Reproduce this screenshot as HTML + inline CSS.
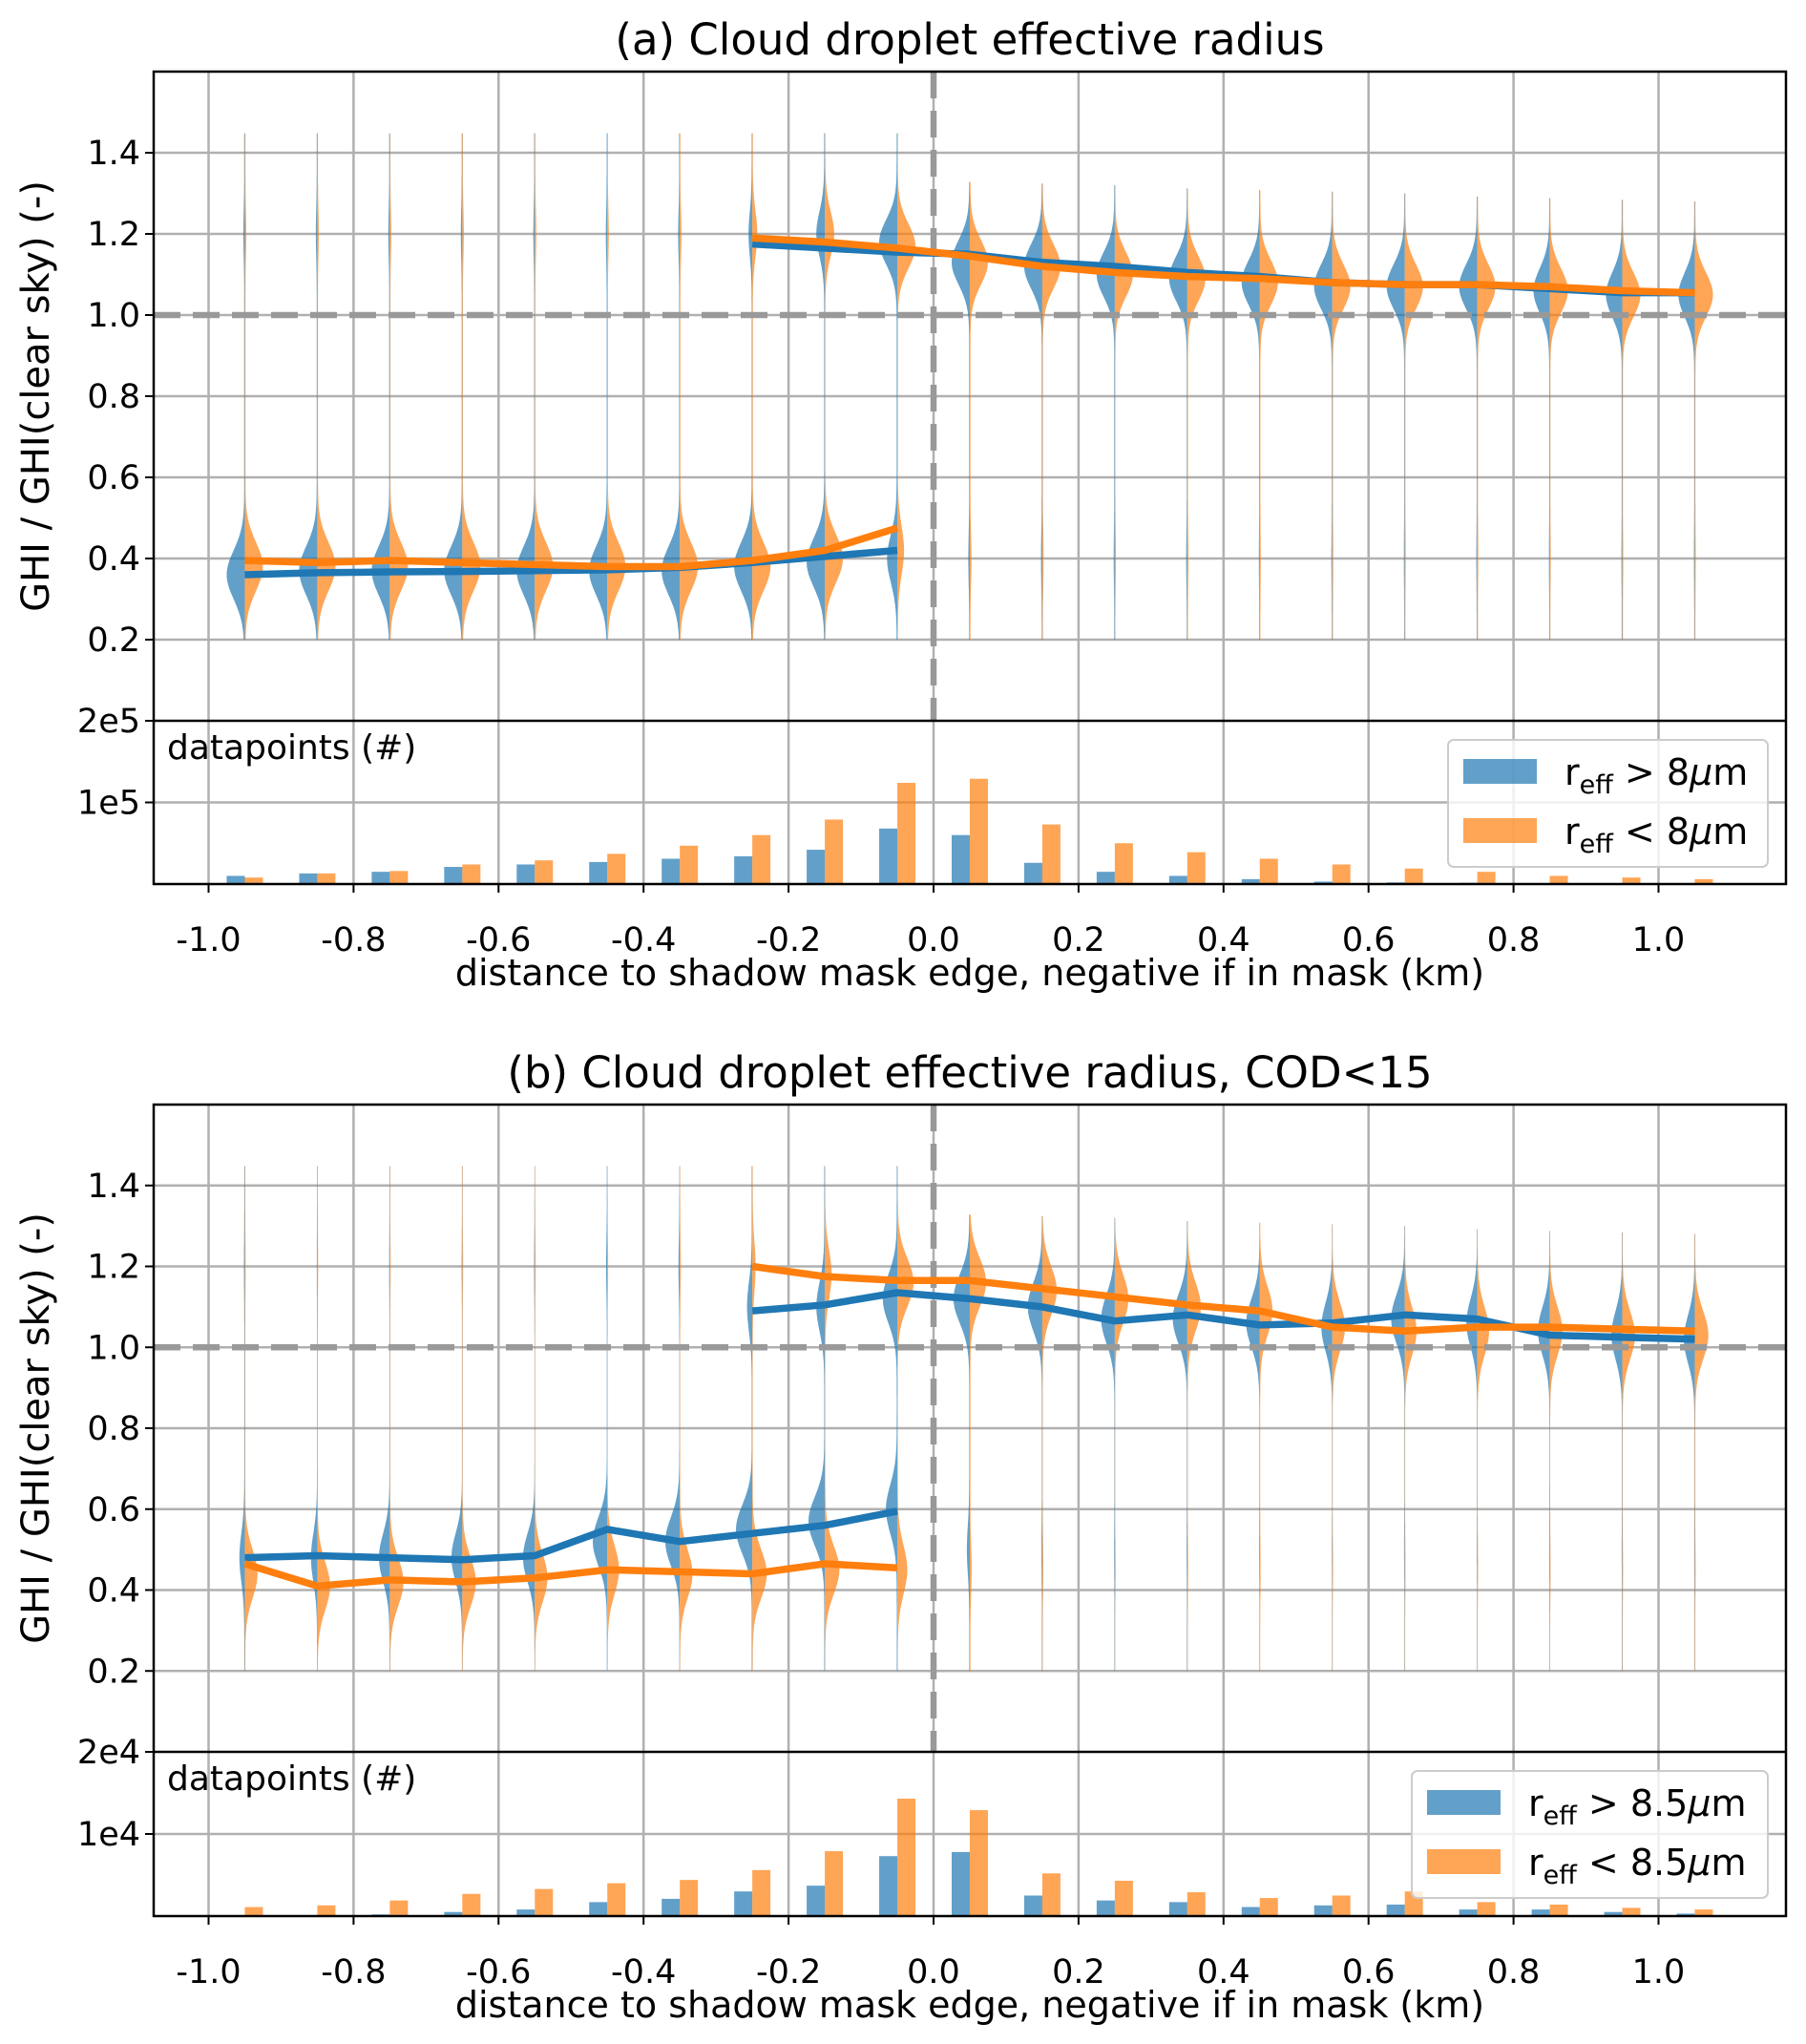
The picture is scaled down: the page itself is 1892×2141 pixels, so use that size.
<!DOCTYPE html>
<html><head><meta charset="utf-8"><style>
body{margin:0;background:#fff}
svg{display:block;font-family:"DejaVu Sans","Liberation Sans",sans-serif}
</style></head><body>
<svg id="fig" width="1892" height="2141" viewBox="0 0 1892 2141" xmlns="http://www.w3.org/2000/svg"></svg>
<script>
// ---- data ----
const binCenters=[-0.95,-0.85,-0.75,-0.65,-0.55,-0.45,-0.35,-0.25,-0.15,-0.05,0.05,0.15,0.25,0.35,0.45,0.55,0.65,0.75,0.85,0.95,1.05];
const xTicks=[-1.0,-0.8,-0.6,-0.4,-0.2,0.0,0.2,0.4,0.6,0.8,1.0];
const yTicks=[0.2,0.4,0.6,0.8,1.0,1.2,1.4];
const lowerX=[-0.95,-0.85,-0.75,-0.65,-0.55,-0.45,-0.35,-0.25,-0.15,-0.05];
const upperX=[-0.25,-0.15,-0.05,0.05,0.15,0.25,0.35,0.45,0.55,0.65,0.75,0.85,0.95,1.05];
// panel a
const aBlueLow=[0.36,0.365,0.367,0.368,0.37,0.372,0.378,0.39,0.405,0.42];
const aBlueUp=[1.175,1.165,1.155,1.15,1.13,1.12,1.105,1.095,1.08,1.075,1.075,1.065,1.055,1.055];
const aOrangeLow=[0.395,0.39,0.395,0.39,0.385,0.38,0.38,0.395,0.42,0.475];
const aOrangeUp=[1.19,1.18,1.165,1.145,1.12,1.105,1.095,1.09,1.08,1.075,1.075,1.07,1.06,1.055];
const aHistBlue=[0.1,0.13,0.15,0.21,0.24,0.27,0.31,0.34,0.42,0.68,0.6,0.26,0.15,0.1,0.06,0.03,0.02,0.015,0.01,0.005,0.005];
const aHistOrange=[0.08,0.13,0.16,0.24,0.29,0.37,0.47,0.6,0.79,1.24,1.29,0.73,0.5,0.39,0.31,0.24,0.19,0.15,0.1,0.08,0.06];
const aVBlueLowMu=[0.36,0.37,0.37,0.37,0.37,0.37,0.37,0.38,0.39,0.40,0.4,0.4,0.4,0.4,0.4,0.4,0.4,0.4,0.4,0.4,0.4];
const aVBlueLowW=[1,1,1,1,1,1,1,1,1,0.55,0.05,0.04,0.03,0.03,0.02,0.02,0.02,0.02,0.02,0.02,0.02];
const aVBlueHighMu=[1.2,1.2,1.2,1.2,1.2,1.2,1.2,1.2,1.2,1.18,1.13,1.12,1.1,1.09,1.08,1.07,1.07,1.07,1.06,1.05,1.05];
const aVBlueHighW=[0.05,0.05,0.05,0.05,0.05,0.05,0.06,0.18,0.45,1,1,1,1,1,1,1,1,1,1,1,1];
const aVOrLowMu=[0.38,0.38,0.38,0.38,0.38,0.38,0.38,0.38,0.4,0.42,0.4,0.4,0.4,0.4,0.4,0.4,0.4,0.4,0.4,0.4,0.4];
const aVOrLowW=[1,1,1,1,1,1,1,1,1,0.35,0.06,0.04,0.03,0.03,0.02,0.02,0.02,0.02,0.02,0.02,0.02];
const aVOrHighMu=[1.2,1.2,1.2,1.2,1.2,1.2,1.2,1.2,1.2,1.17,1.13,1.12,1.1,1.09,1.08,1.07,1.07,1.07,1.06,1.05,1.05];
const aVOrHighW=[0.05,0.05,0.05,0.05,0.05,0.05,0.06,0.25,0.5,1,1,1,1,1,1,1,1,1,1,1,1];
const aVBlueScale=[1,1,1,1,1,1,1,1,1,1,1,1,1,1,1,1,1,1,0.9,0.9,0.9];
const aVOrScale=[1,1,1,1,1,1,1,1,1,1,1,1,1,1,1,1,1,1,1,1,1];
// panel b
const bBlueLow=[0.48,0.485,0.48,0.475,0.485,0.55,0.52,0.54,0.56,0.595];
const bBlueUp=[1.09,1.105,1.135,1.12,1.1,1.065,1.08,1.055,1.06,1.08,1.07,1.03,1.025,1.02];
const bOrangeLow=[0.465,0.41,0.425,0.42,0.43,0.45,0.445,0.44,0.465,0.455];
const bOrangeUp=[1.2,1.175,1.165,1.165,1.145,1.125,1.105,1.09,1.05,1.04,1.05,1.05,1.045,1.04];
const bHistBlue=[0.005,0.005,0.02,0.05,0.08,0.17,0.21,0.3,0.37,0.73,0.78,0.25,0.19,0.17,0.11,0.13,0.14,0.08,0.08,0.05,0.03];
const bHistOrange=[0.11,0.13,0.19,0.27,0.33,0.4,0.44,0.56,0.79,1.43,1.29,0.52,0.43,0.29,0.22,0.25,0.3,0.17,0.14,0.1,0.08];
const bVBlueLowMu=[0.48,0.48,0.48,0.48,0.48,0.52,0.52,0.55,0.57,0.6,0.5,0.5,0.5,0.5,0.5,0.5,0.5,0.5,0.5,0.5,0.5];
const bVBlueLowW=[0.3,0.6,1,1,1,1,1,1,1,0.7,0.15,0.03,0.02,0.02,0.02,0.02,0.02,0.02,0.02,0.02,0.02];
const bVBlueHighMu=[1.2,1.2,1.2,1.2,1.2,1.2,1.2,1.1,1.1,1.12,1.12,1.1,1.07,1.07,1.06,1.05,1.07,1.06,1.04,1.03,1.02];
const bVBlueHighW=[0.02,0.02,0.03,0.03,0.03,0.05,0.06,0.3,0.5,0.9,1,1,1,1,1,1,1,1,1,1,1];
const bVOrLowMu=[0.44,0.41,0.42,0.42,0.43,0.45,0.44,0.44,0.45,0.45,0.45,0.45,0.45,0.45,0.45,0.45,0.45,0.45,0.45,0.45,0.45];
const bVOrLowW=[1,1,1,1,1,1,1,1,1,0.6,0.08,0.04,0.03,0.03,0.03,0.03,0.03,0.03,0.03,0.03,0.03];
const bVOrHighMu=[1.2,1.2,1.2,1.2,1.2,1.2,1.2,1.2,1.18,1.16,1.16,1.14,1.12,1.1,1.09,1.05,1.04,1.04,1.04,1.03,1.03];
const bVOrHighW=[0.03,0.03,0.03,0.03,0.04,0.04,0.05,0.2,0.45,1,1,1,1,1,1,1,1,1,1,1,1];
const bVBlueScale=[0.3,0.35,0.6,0.6,0.65,0.8,0.8,0.9,0.9,0.8,0.9,0.8,0.75,0.8,0.75,0.6,0.75,0.6,0.65,0.6,0.6];
const bVOrScale=[0.7,0.7,0.75,0.75,0.7,0.65,0.7,0.8,0.8,0.9,0.9,0.8,0.75,0.75,0.7,0.7,0.65,0.65,0.7,0.7,0.75];

// ---- drawing ----
const NS="http://www.w3.org/2000/svg";
const svg=document.getElementById('fig');
function mk(tag,attrs,parent){const e=document.createElementNS(NS,tag);for(const k in attrs)e.setAttribute(k,attrs[k]);(parent||svg).appendChild(e);return e;}
const L=161,R=1871;
function xp(v){return 978+v*759.5;}
const BLUE='rgba(31,119,180,0.7)',ORANGE='rgba(255,127,14,0.7)';

function panel(cfg){
  const g=mk('g',{});
  
  
  const top=cfg.top,mb=cfg.mainBottom,hb=cfg.histBottom;
  const yp=v=>mb-v/1.6*(mb-top);
  const hp=v=>hb-v/cfg.histMax*(hb-mb);
  const t=mk('text',{x:1016,y:top-18,'font-size':45,'text-anchor':'middle'},g);t.textContent=cfg.title;
  
  for(const v of xTicks){const l=mk('line',{x1:xp(v),x2:xp(v),y1:top,y2:hb,stroke:'#b0b0b0','stroke-width':2.5},g);
    }
  for(const v of yTicks){const l=mk('line',{x1:L,x2:R,y1:yp(v),y2:yp(v),stroke:'#b0b0b0','stroke-width':2.5},g);
    }
  const hl=mk('line',{x1:L,x2:R,y1:hp(cfg.histMax/2),y2:hp(cfg.histMax/2),stroke:'#b0b0b0','stroke-width':2.5},g);
  
  const hw=0.025;
  function violin(i,side,lm,lw,hm,hwgt,sc,sl,sh,ymin,ymax,col){
    const ys=[],ds=[];
    for(let y=ymin;y<=ymax+1e-9;y+=0.004){
      let d=lw*Math.exp(-((y-lm)**2)/(2*sl*sl))+hwgt*Math.exp(-((y-hm)**2)/(2*sh*sh));
      ys.push(y);ds.push(d+0.035);
    }
    const mx=Math.max(...ds);const c=binCenters[i];
    let p='M'+xp(c)+','+yp(ys[0]);
    for(let k=0;k<ys.length;k++)p+='L'+(xp(c+side*ds[k]/mx*hw*sc)).toFixed(1)+','+yp(ys[k]).toFixed(1);
    p+='L'+xp(c)+','+yp(ys[ys.length-1])+'Z';
    const e=mk('path',{d:p,fill:col},g);
    
    
  }
  for(let i=0;i<binCenters.length;i++){
    const neg=binCenters[i]<0;
    const ymin=0.2, ymax=neg?1.45:1.38-i*0.005;
    violin(i,-1,cfg.vbl[i],cfg.vblw[i],cfg.vbh[i],cfg.vbhw[i],cfg.vbs[i],cfg.sl,cfg.sh,ymin,ymax,BLUE);
    violin(i,1,cfg.vol[i],cfg.volw[i],cfg.voh[i],cfg.vohw[i],cfg.vos[i],cfg.sl,cfg.sh,ymin,ymax,ORANGE);
  }
  const d1=mk('line',{x1:L,x2:R,y1:yp(1.0),y2:yp(1.0),stroke:'#999','stroke-width':6.5,'stroke-dasharray':'28,13'},g);
  
  const d2=mk('line',{x1:xp(0),x2:xp(0),y1:top,y2:mb,stroke:'#999','stroke-width':6.5,'stroke-dasharray':'28,13'},g);
  
  function line(xs,vs,col,nm){const pts=xs.map((x,k)=>xp(x).toFixed(1)+','+yp(vs[k]).toFixed(1)).join(' ');
    const e=mk('polyline',{points:pts,fill:'none',stroke:col,'stroke-width':7.5,'stroke-linejoin':'round'},g);
    }
  line(lowerX,cfg.bl,'#1f77b4','blue-mean-in-mask');
  line(upperX,cfg.bu,'#1f77b4','blue-mean-outside');
  line(lowerX,cfg.ol,'#ff7f0e','orange-mean-in-mask');
  line(upperX,cfg.ou,'#ff7f0e','orange-mean-outside');
  for(let i=0;i<binCenters.length;i++){
    const c=binCenters[i];
    const b=mk('rect',{x:xp(c-0.025),y:hp(cfg.hb[i]),width:xp(c)-xp(c-0.025),height:hb-hp(cfg.hb[i]),fill:BLUE},g);
    
    const o=mk('rect',{x:xp(c),y:hp(cfg.ho[i]),width:xp(c+0.025)-xp(c),height:hb-hp(cfg.ho[i]),fill:ORANGE},g);
    
  }
  mk('rect',{x:L,y:top,width:R-L,height:hb-top,fill:'none',stroke:'#000','stroke-width':2.5},g);
  mk('line',{x1:L,x2:R,y1:mb,y2:mb,stroke:'#000','stroke-width':2.5},g);
  for(const v of xTicks){mk('line',{x1:xp(v),x2:xp(v),y1:hb,y2:hb+9,stroke:'#000','stroke-width':2},g);
    const tt=mk('text',{x:xp(v),y:hb+70,'font-size':35,'text-anchor':'middle'},g);tt.textContent=v.toFixed(1);
    }
  for(const v of yTicks){mk('line',{x1:L-9,x2:L,y1:yp(v),y2:yp(v),stroke:'#000','stroke-width':2},g);
    const tt=mk('text',{x:L-14,y:yp(v)+12,'font-size':35,'text-anchor':'end'},g);tt.textContent=v.toFixed(1);
    }
  cfg.htl.forEach((s,k)=>{const v=(k===0?cfg.histMax:cfg.histMax/2);
    mk('line',{x1:L-9,x2:L,y1:hp(v),y2:hp(v),stroke:'#000','stroke-width':2},g);
    const tt=mk('text',{x:L-14,y:hp(v)+12,'font-size':35,'text-anchor':'end'},g);tt.textContent=s;
    });
  const dp=mk('text',{x:175,y:mb+40,'font-size':36},g);dp.textContent='datapoints (#)';
  
  const xl=mk('text',{x:1016,y:hb+106,'font-size':38,'text-anchor':'middle'},g);xl.textContent='distance to shadow mask edge, negative if in mask (km)';
  
  const yc=(top+mb)/2;
  const yl=mk('text',{x:0,y:0,'font-size':40,'text-anchor':'middle',transform:'translate(51,'+yc+') rotate(-90)'},g);yl.textContent='GHI / GHI(clear sky) (-)';
  
  const lg=mk('g',{},g);
  const lx=cfg.legX,ly=mb+20;
  mk('rect',{x:lx,y:ly,width:1852-lx,height:133,rx:6,fill:'rgba(255,255,255,0.8)',stroke:'#ccc','stroke-width':2},lg);
  [[BLUE,'>'],[ORANGE,'<']].forEach((e,k)=>{
    const yy=ly+20+k*62;
    const r=mk('rect',{x:lx+16,y:yy,width:77,height:26,fill:e[0]},lg);
    
    const tx=mk('text',{x:lx+122,y:yy+27,'font-size':38},lg);
    
    tx.innerHTML='r<tspan font-size="27" dy="9">eff</tspan><tspan dy="-9"> '+e[1]+' '+cfg.thr+'</tspan><tspan font-style="italic">μ</tspan>m';
  });
}
panel({name:'panel-a',title:'(a) Cloud droplet effective radius',top:75,mainBottom:755,histBottom:926,histMax:2,
  htl:['2e5','1e5'],thr:'8',legX:1517,sl:0.06,sh:0.055,
  bl:aBlueLow,bu:aBlueUp,ol:aOrangeLow,ou:aOrangeUp,hb:aHistBlue,ho:aHistOrange,
  vbl:aVBlueLowMu,vblw:aVBlueLowW,vbh:aVBlueHighMu,vbhw:aVBlueHighW,vol:aVOrLowMu,volw:aVOrLowW,voh:aVOrHighMu,vohw:aVOrHighW,
  vbs:aVBlueScale,vos:aVOrScale});
panel({name:'panel-b',title:'(b) Cloud droplet effective radius, COD<15',top:1157,mainBottom:1835,histBottom:2007,histMax:2,
  htl:['2e4','1e4'],thr:'8.5',legX:1479,sl:0.06,sh:0.06,
  bl:bBlueLow,bu:bBlueUp,ol:bOrangeLow,ou:bOrangeUp,hb:bHistBlue,ho:bHistOrange,
  vbl:bVBlueLowMu,vblw:bVBlueLowW,vbh:bVBlueHighMu,vbhw:bVBlueHighW,vol:bVOrLowMu,volw:bVOrLowW,voh:bVOrHighMu,vohw:bVOrHighW,
  vbs:bVBlueScale,vos:bVOrScale});
</script>
</body></html>
